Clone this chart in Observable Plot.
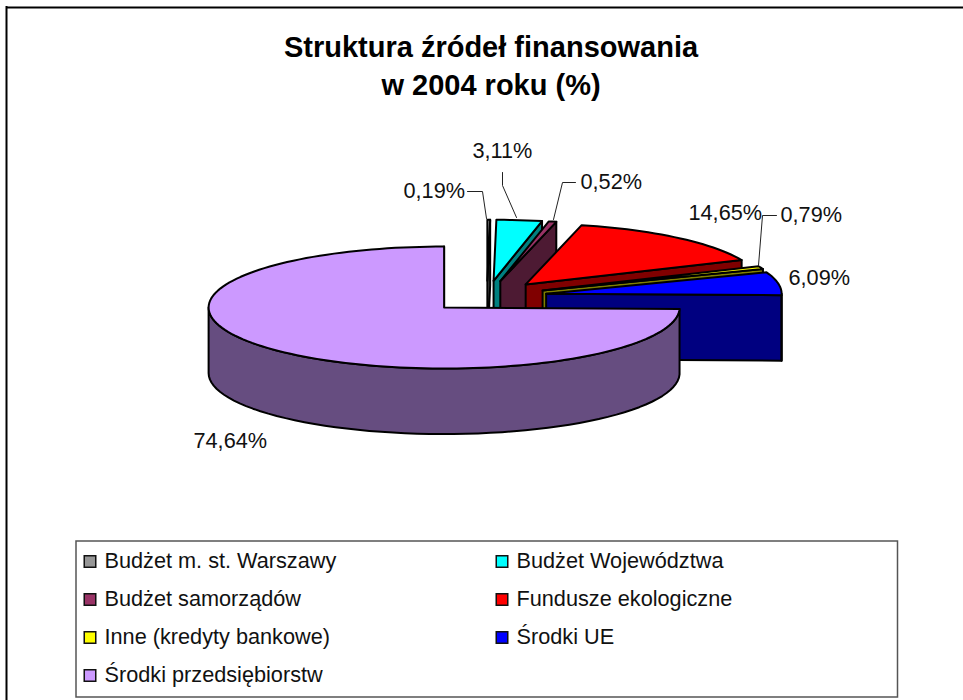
<!DOCTYPE html>
<html><head><meta charset="utf-8">
<script src="https://cdn.jsdelivr.net/npm/d3@7"></script>
<script src="https://cdn.jsdelivr.net/npm/@observablehq/plot@0.6"></script>
<style>html,body{margin:0;padding:0;background:#fff}svg{display:block}</style>
</head><body><div id="chart"></div>
<script>
// Data
const categories = ["Budżet m. st. Warszawy","Budżet Województwa","Budżet samorządów","Fundusze ekologiczne","Inne (kredyty bankowe)","Środki UE","Środki przedsiębiorstw"];
const shares = [0.19,3.11,0.52,14.65,0.79,6.09,74.64];
const shareLabels = ["0,19%","3,11%","0,52%","14,65%","0,79%","6,09%","74,64%"];
const titleLines = ["Struktura źródeł finansowania","w 2004 roku (%)"];
const topColors = ["#969696","#00ffff","#993366","#ff0000","#ffff00","#0000ff","#cc99ff"];
const wallColors = ["#4b4b4b","#008080","#4d1a33","#800000","#808000","#000080","#664d80"];

// Layout of the drawing (pixel space of the x / y scales)
const C = {x:486.5, y:296, rx:235.5, ry:61, depth:65.5, ex:60, ey:15.8};
const labelPos = [[403,191],[472,151],[580,182],[688,213],[780,215],[788,278],[193,441]];
const leaderOut = [[[467,191],[482,191]],[[502,172],[502,185]],[[575,182],[562,182]],null,[[776,215],[762,215]],null,null];
const leaderTip = [[486,218],[516,217],[553,219],null,[758,265],null,null];
const legendPos = categories.map((_,i)=>({col:i%2,row:Math.floor(i/2)}));
const legendX = [89.5,501.5], legendY = [561,599,637,675];

// Geometry derived from the values
const total = d3.sum(shares);
const polys = [];
let cum = 0;
const pt = (o,a)=>({x:o.x+C.rx*Math.sin(a), y:o.y-C.ry*Math.cos(a)});
const rad = d=>d*Math.PI/180;
const slices = shares.map((v,i)=>{
  const a0 = cum/total*2*Math.PI; cum += v; const a1 = cum/total*2*Math.PI;
  const m = (a0+a1)/2;
  const o = {x:C.x+C.ex*Math.sin(m), y:C.y-C.ey*Math.cos(m)};
  return {i,a0,a1,o};
});
function push(id,i,kind,points){
  const fill = kind==="top"?topColors[i]:wallColors[i];
  points.concat([points[0]]).forEach(p=>polys.push({id,fill,x:p.x,y:p.y}));
}
slices.forEach(({i,a0,a1,o})=>{
  // radial wall on the closing edge
  const e = pt(o,a1);
  push(`w${i}`,i,"wall",[{x:o.x,y:o.y},e,{x:e.x,y:e.y+C.depth},{x:o.x,y:o.y+C.depth}]);
  // outer wall for the part of the arc that faces the viewer
  const f0 = Math.max(a0,Math.PI/2), f1 = Math.min(a1,3*Math.PI/2);
  if (f1>f0){
    const arc = d3.range(0,61).map(k=>pt(o,f0+(f1-f0)*k/60));
    push(`o${i}`,i,"wall",arc.concat(arc.slice().reverse().map(p=>({x:p.x,y:p.y+C.depth}))));
  }
  // top face
  const n = Math.max(2,Math.ceil((a1-a0)/rad(2)));
  push(`t${i}`,i,"top",[{x:o.x,y:o.y},...d3.range(0,n+1).map(k=>pt(o,a0+(a1-a0)*k/n))]);
});

const leaders = [];
leaderOut.forEach((seg,i)=>{ if(seg) [...seg,leaderTip[i]].forEach(p=>leaders.push({i,x:p[0],y:p[1]})); });
const labels = shareLabels.map((t,i)=>({t,x:labelPos[i][0],y:labelPos[i][1]}));
const legend = categories.map((name,i)=>({name,fill:topColors[i],x:legendX[legendPos[i].col],y:legendY[legendPos[i].row]}));
const FONT = "Liberation Sans, Arial, sans-serif";

const plot = Plot.plot({
  width:963,height:700,margin:0,
  x:{domain:[0,963],range:[0,963],axis:null},
  y:{domain:[0,700],range:[0,700],axis:null},
  color:{type:"identity"},
  style:{fontFamily:FONT,background:"#fff",overflow:"visible"},
  marks:[
    // chart frame: top and left edges only
    Plot.ruleY([7],{x1:6,x2:963,stroke:"#000",strokeWidth:2}),
    Plot.ruleX([6],{y1:6,y2:700,stroke:"#000",strokeWidth:2}),
    // legend frame
    Plot.rect([{x1:76,x2:897.5,y1:541,y2:697}],{x1:"x1",x2:"x2",y1:"y1",y2:"y2",fill:"#fff",stroke:"#555",strokeWidth:1.5}),
    Plot.line(polys,{x:"x",y:"y",z:"id",fill:"fill",stroke:"#000",strokeWidth:2,curve:"linear"}),
    Plot.line(leaders,{x:"x",y:"y",z:"i",stroke:"#222",strokeWidth:1}),
    Plot.text(labels,{x:"x",y:"y",text:"t",textAnchor:"start",fontSize:21.7,fill:"#111"}),
    Plot.text(titleLines,{x:()=>490.5,y:(d,i)=>[47,85][i],text:d=>d,fontSize:29,fontWeight:"bold",fill:"#000"}),
    Plot.dot(legend,{x:"x",y:"y",symbol:"square",r:6.5,fill:"fill",stroke:"#111",strokeWidth:1.5}),
    Plot.text(legend,{x:d=>d.x+14.5,y:"y",text:"name",textAnchor:"start",fontSize:21.7,fill:"#111"})
  ]
});
document.getElementById("chart").append(plot);
</script></body></html>
